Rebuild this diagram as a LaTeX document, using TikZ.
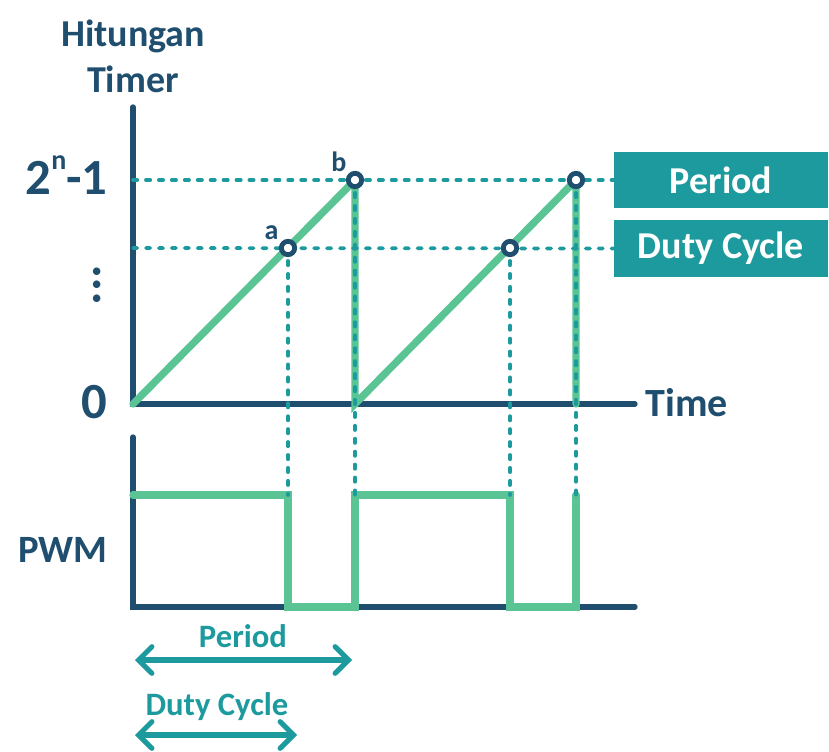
\documentclass[tikz,border=0pt]{standalone}
\usepackage{fontspec}
\setmainfont{Carlito}
\usetikzlibrary{arrows.meta}
\definecolor{navy}{RGB}{31,78,111}
\definecolor{mint}{RGB}{91,196,148}
\definecolor{tealc}{RGB}{29,154,158}
\tikzset{every picture/.style={line width=0.75pt}}

\begin{document}
\begin{tikzpicture}[x=0.75pt,y=0.75pt,yscale=-1,xscale=1,
  axis/.style={draw=navy, line width=4pt, line cap=round, line join=miter},
  signal/.style={draw=mint, line width=5.5pt, line cap=round, line join=miter},
  guide/.style={draw=tealc, line width=2.8pt, line cap=round, dash pattern=on 3.2pt off 6.5pt},
  marker/.style={circle, draw=navy, fill=white, line width=3.6pt, inner sep=0pt, minimum size=10pt},
  lbl/.style={text=navy, font=\bfseries, inner sep=0pt},
  tagbox/.style={fill=tealc, text=white, font=\fontsize{28.5}{30}\selectfont\bfseries, minimum width=160.5pt, minimum height=42pt, inner sep=0pt},
  span/.style={draw=tealc, line width=3.8pt, {Straight Barb[length=10pt,width=20pt,line cap=round]}-{Straight Barb[length=10pt,width=20pt,line cap=round]}},
  spantext/.style={text=tealc, font=\fontsize{24.5}{28}\selectfont\bfseries, inner sep=0pt}]
\useasboundingbox (0,0) rectangle (829,752);

%Points of the counter
\coordinate (O) at (133,404);
\coordinate (ytop) at (133,107);
\coordinate (xend) at (635,404);
\coordinate (b1) at (355,180);
\coordinate (a1) at (288,248);
\coordinate (z1) at (355,404);
\coordinate (a2) at (510,248);
\coordinate (b2) at (576,180);
\coordinate (z2) at (576,404);
\coordinate (ytopb) at (133,180);
\coordinate (ytopa) at (133,248);

%Points of the PWM signal
\coordinate (q0) at (133,437);
\coordinate (q1) at (133,607);
\coordinate (q2) at (635,607);
\coordinate (p0) at (133,495);
\coordinate (p1) at (288,495);
\coordinate (p2) at (288,607);
\coordinate (p3) at (355,607);
\coordinate (p4) at (355,495);
\coordinate (p5) at (510,495);
\coordinate (p6) at (510,607);
\coordinate (p7) at (576,607);
\coordinate (p8) at (576,495);

%Boxes
\node [tagbox] (per) at (721,180) {Period};
\node [tagbox, minimum height=42.75pt] (duty) at (721,248.5) {Duty Cycle};

%Axes
\draw [axis] (ytop) -- (O) -- (xend);
\draw [axis] (q0) -- (q1) -- (q2);

%Sawtooth
\draw [signal] (O) -- (b1) -- (z1) -- (b2) -- (z2);

%PWM
\draw [signal] (p0) -- (p1) -- (p2) -- (p3) -- (p4) -- (p5) -- (p6) -- (p7) -- (p8);

%Dashed guides
\draw [guide] (ytopb) -- (per.west);
\draw [guide] (ytopa) -- (duty.west);
\draw [guide] (a1) -- (p1);
\draw [guide] (b1) -- (p4);
\draw [guide] (a2) -- (p5);
\draw [guide] (b2) -- (p8);

%Markers
\node [marker] (ma1) at (a1) {};
\node [marker] (mb1) at (b1) {};
\node [marker] (ma2) at (a2) {};
\node [marker] (mb2) at (b2) {};

% Text Node
\node [lbl, font=\fontsize{28.5}{30}\selectfont\bfseries, anchor=base] (hit) at (133,47) {Hitungan};
% Text Node
\node [lbl, font=\fontsize{28.5}{30}\selectfont\bfseries, anchor=base] (tim) at (133,93) {Timer};
% Text Node
\node [lbl, font=\fontsize{38}{40}\selectfont\bfseries, anchor=base east] (top) at (108,195) {2\raisebox{0.5em}{\fontsize{21}{21}\selectfont n}-1};
% Text Node
\node [lbl, font=\fontsize{38}{40}\selectfont\bfseries, rotate=90] (dots) at (97,285) {...};
% Text Node
\node [lbl, font=\fontsize{38}{40}\selectfont\bfseries, anchor=base east] (zero) at (108,419) {0};
% Text Node
\node [lbl, font=\fontsize{30}{34}\selectfont\bfseries, anchor=base west] (time) at (645,417) {Time};
% Text Node
\node [lbl, font=\fontsize{21}{24}\selectfont\bfseries, anchor=base east] (la) at (279,240) {a};
% Text Node
\node [lbl, font=\fontsize{21}{24}\selectfont\bfseries, anchor=base east] (lb) at (347,172) {b};
% Text Node
\node [lbl, font=\fontsize{29}{32}\selectfont\bfseries, anchor=base east] (pwm) at (108,562) {PWM};

%Spans
\coordinate (s1l) at (135,660);
\coordinate (s1r) at (352,660);
\coordinate (s2l) at (135,735);
\coordinate (s2r) at (297,735);
\draw [span] (s1l) -- (s1r);
\draw [span] (s2l) -- (s2r);
% Text Node
\node [spantext, anchor=base] (lper) at (243,647) {Period};
% Text Node
\node [spantext, anchor=base] (lduty) at (217,715) {Duty Cycle};

\end{tikzpicture}
\end{document}
